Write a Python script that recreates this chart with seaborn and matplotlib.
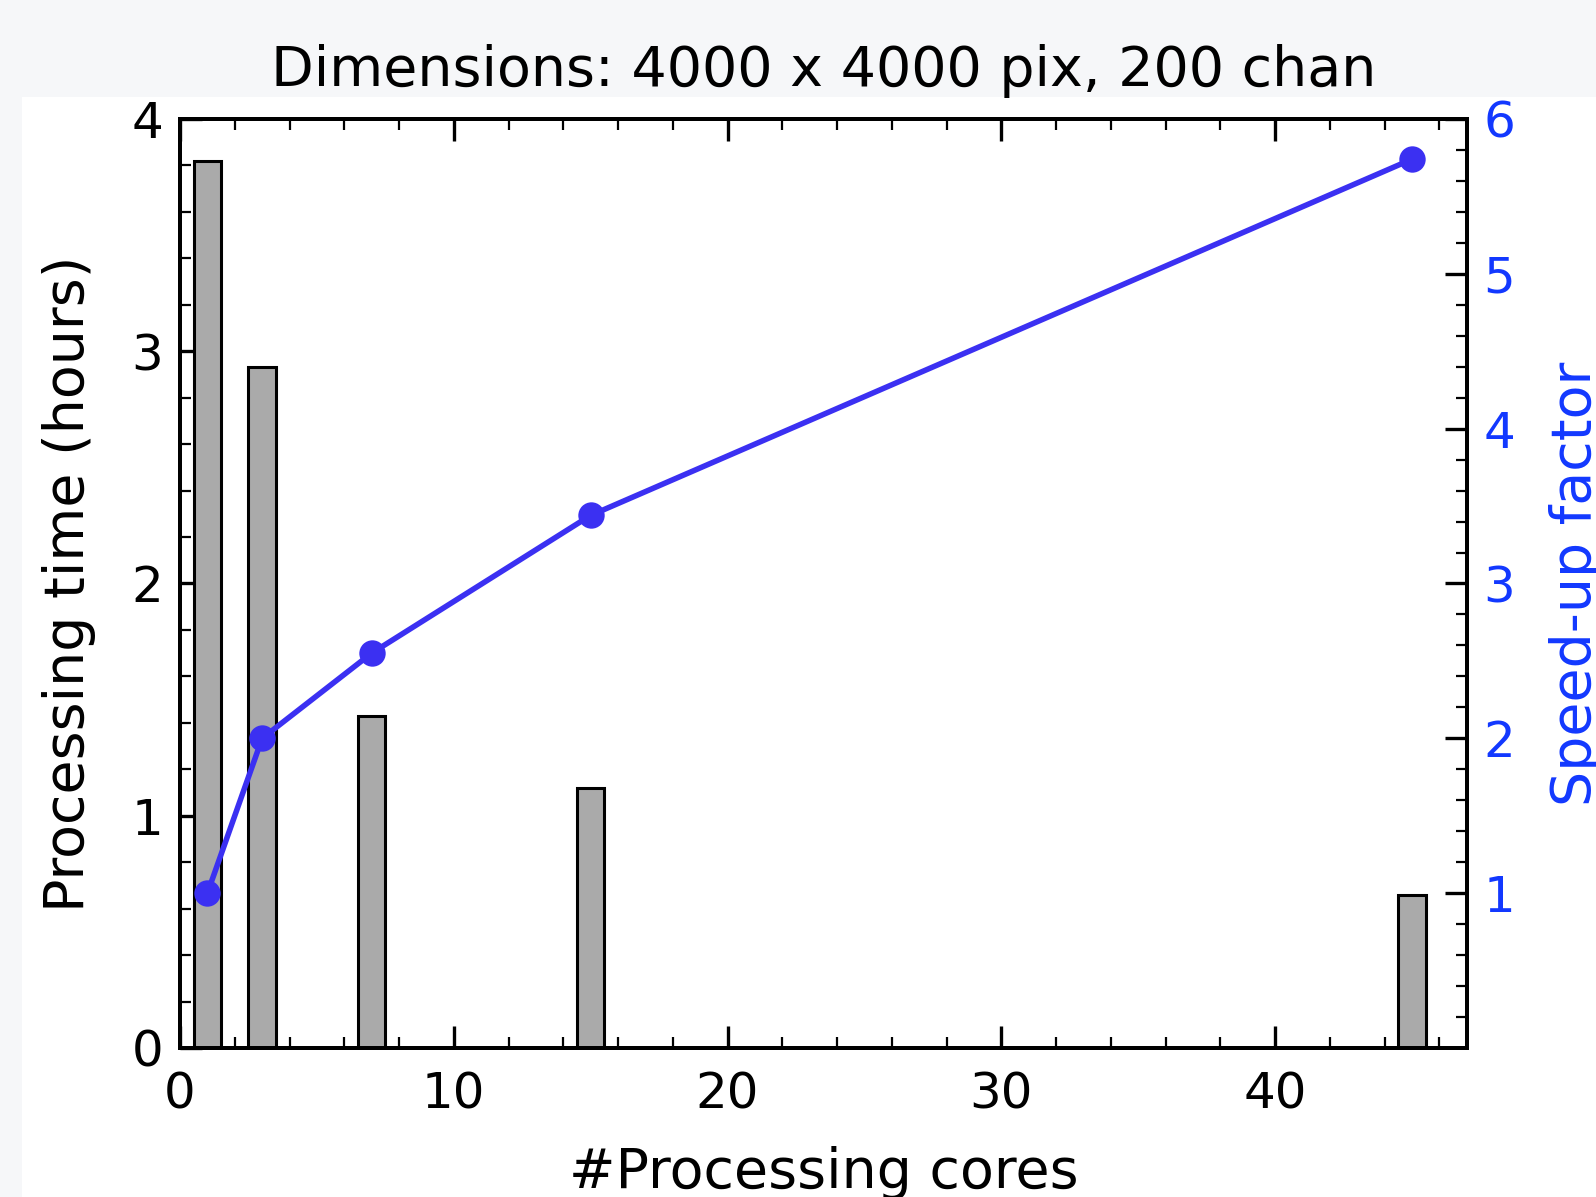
import matplotlib
matplotlib.use('Agg')
import matplotlib.pyplot as plt
import seaborn as sns
from matplotlib.ticker import MultipleLocator
from matplotlib.patches import Rectangle

# Datos
cores = [1, 3, 7, 15, 45]
hours = [3.82, 2.93, 1.43, 1.12, 0.66]
speedup = [1.0, 2.0, 2.55, 3.44, 5.74]

sns.set_style('ticks')
plt.rcParams['font.family'] = ['DejaVu Sans']
plt.rcParams['xtick.direction'] = 'in'
plt.rcParams['ytick.direction'] = 'in'
plt.rcParams['text.color'] = 'black'
plt.rcParams['axes.labelcolor'] = 'black'
plt.rcParams['xtick.color'] = 'black'
plt.rcParams['ytick.color'] = 'black'
plt.rcParams['axes.edgecolor'] = 'black'

blue_line = '#3b30f2'
blue_text = '#1238ff'

fig = plt.figure(figsize=(15.96, 11.97), dpi=100, facecolor='#f6f7f9')
# fondo blanco de la diapositiva
fig.patches.append(Rectangle((22 / 1596, 0), 1, 1 - 97 / 1197, transform=fig.transFigure,
                             facecolor='white', edgecolor='none', zorder=-10))
ax = fig.add_axes([0.1128, 0.1245, 0.8062, 0.7761])
ax.set_facecolor('white')

sns.barplot(x=cores, y=hours, native_scale=True, width=0.5, color='#aaaaaa',
            saturation=1, edgecolor='black', linewidth=2.2, ax=ax)

ax.set_xlim(0, 47)
ax.set_ylim(0, 4)
ax.xaxis.set_major_locator(MultipleLocator(10))
ax.xaxis.set_minor_locator(MultipleLocator(2))
ax.yaxis.set_major_locator(MultipleLocator(1))
ax.yaxis.set_minor_locator(MultipleLocator(0.2))
ax.tick_params(which='major', length=16, width=2.4, labelsize=36, pad=12,
               top=True, right=False)
ax.tick_params(axis='x', which='major', pad=16)
ax.tick_params(which='minor', length=8, width=1.6, top=True, right=False)
for s in ax.spines.values():
    s.set_linewidth(2.8)
ax.set_xlabel('#Processing cores', fontsize=40, labelpad=20)
ax.set_ylabel('Processing time (hours)', fontsize=40, labelpad=26)
ax.set_title('Dimensions: 4000 x 4000 pix, 200 chan', fontsize=40, pad=24)

ax2 = ax.twinx()
sns.lineplot(x=cores, y=speedup, ax=ax2, color=blue_line, linewidth=4, marker='o',
             markersize=19, markeredgewidth=0)
ax2.set_ylim(0, 6)
ax2.yaxis.set_major_locator(MultipleLocator(1))
ax2.yaxis.set_minor_locator(MultipleLocator(0.2))
ax2.set_yticks([1, 2, 3, 4, 5, 6])
ax2.tick_params(axis='y', which='major', length=16, width=2.4, labelsize=36, pad=12,
                labelcolor=blue_text)
ax2.tick_params(axis='y', which='minor', length=8, width=1.6)
for s in ax2.spines.values():
    s.set_linewidth(2.8)
ax2.set_ylabel('Speed-up factor', fontsize=40, color=blue_text, labelpad=24)

plt.savefig('out.png', dpi=100, facecolor=fig.get_facecolor())
